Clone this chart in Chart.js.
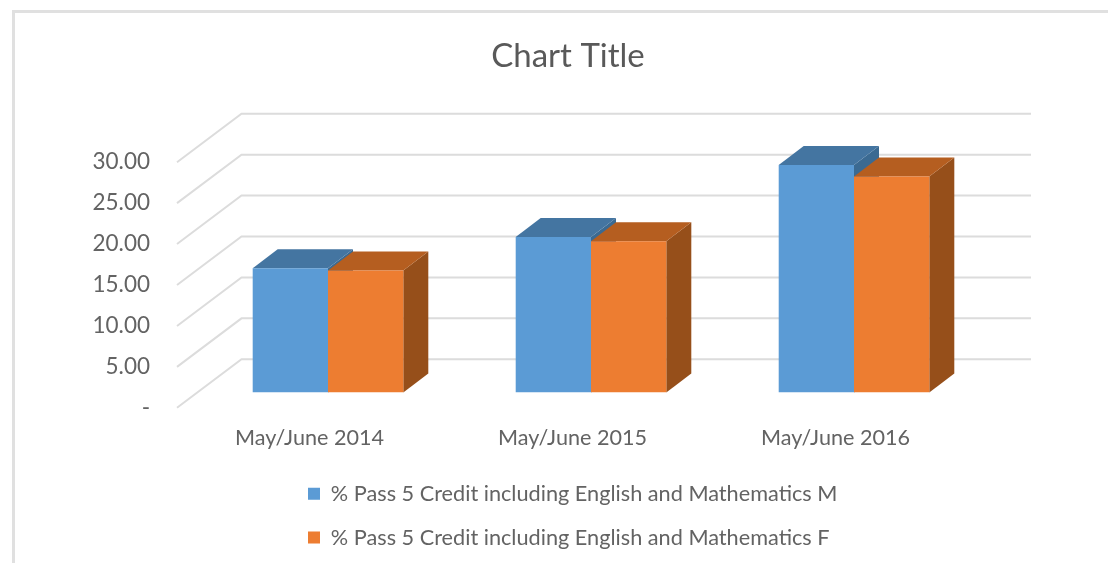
<!DOCTYPE html>
<html>
<head>
<meta charset="utf-8">
<title>Chart Title</title>
<script src="https://cdn.jsdelivr.net/npm/chart.js@4"></script>
<style>
  html, body { margin: 0; padding: 0; background: #fff; }
  #wrap { position: relative; width: 1108px; height: 563px; overflow: hidden; }
  #frame { position: absolute; left: 12px; top: 10px; width: 1200px; height: 600px; border: 3px solid #e0e0e0; box-sizing: border-box; }
  canvas { position: absolute; left: 0; top: 0; }
</style>
</head>
<body>
<div id="wrap">
  <div id="frame"></div>
  <canvas id="chart" width="1108" height="563"></canvas>
</div>
<script>
var categories = ["May/June 2014", "May/June 2015", "May/June 2016"];
var series_m = [15.2, 19.0, 27.8];
var series_f = [14.9, 18.5, 26.4];
var label_m = "% Pass 5 Credit including English and Mathematics M";
var label_f = "% Pass 5 Credit including English and Mathematics F";
var tick_values = [0, 5, 10, 15, 20, 25, 30];

var textColor = "#636363";
var fontName = "Lato";
var barDepthX = 25, barDepthY = 19;

function poly(ctx, pts, color) {
  ctx.fillStyle = color;
  ctx.beginPath();
  ctx.moveTo(pts[0][0], pts[0][1]);
  for (var i = 1; i < pts.length; i++) ctx.lineTo(pts[i][0], pts[i][1]);
  ctx.closePath();
  ctx.fill();
}

// walls of the fake 3d box, hung off the y scale
var wallPlugin = {
  id: "walls",
  beforeDatasetsDraw: function (chart) {
    var ctx = chart.ctx;
    var y = chart.scales.y;
    ctx.save();
    ctx.strokeStyle = "#dcdcdc";
    ctx.lineWidth = 2;
    tick_values.forEach(function (v) {
      var py = y.getPixelForValue(v);
      ctx.beginPath();
      ctx.moveTo(177, py + 15.2);
      ctx.lineTo(241.5, py - 33.3);
      ctx.lineTo(1031, py - 33.3);
      ctx.stroke();
    });
    ctx.restore();

    // sides and tops of each bar, the fronts come from the library
    var shades = [
      { top: "#4475a1", side: "#3b6a92" },
      { top: "#b55e20", side: "#964f1a" }
    ];
    shades.forEach(function (shade, i) {
      chart.getDatasetMeta(i).data.forEach(function (bar) {
        var l = bar.x - bar.width / 2, r = bar.x + bar.width / 2;
        poly(ctx, [[r, bar.y], [r + barDepthX, bar.y - barDepthY], [r + barDepthX, bar.base - barDepthY], [r, bar.base]], shade.side);
        poly(ctx, [[l, bar.y], [l + barDepthX, bar.y - barDepthY], [r + barDepthX, bar.y - barDepthY], [r, bar.y]], shade.top);
      });
    });
  },
  afterLayout: function (chart) {
    // two left aligned rows, chart.js only centres them across the page
    chart.legend.left = 286;
    chart.legend.top = 461;
    chart.titleBlock.left = 28;
    chart.titleBlock.right = 1108;
  }
};

new Chart(document.getElementById("chart"), {
  type: "bar",
  plugins: [wallPlugin],
  data: {
    labels: categories,
    datasets: [
      { label: label_m, data: series_m, backgroundColor: "#5b9bd5" },
      { label: label_f, data: series_f, backgroundColor: "#ed7d31" }
    ]
  },
  options: {
    responsive: false,
    animation: false,
    categoryPercentage: 0.5726,
    barPercentage: 1,
    layout: { padding: { left: 0, right: 122.5, top: 0, bottom: 0 } },
    scales: {
      x: {
        grid: { display: false },
        border: { display: false },
        afterFit: function (scale) { scale.height = 73; },
        ticks: {
          color: textColor,
          font: { family: fontName, size: 21.6 },
          labelOffset: -18.5,
          padding: 24,
          maxRotation: 0
        }
      },
      y: {
        min: 0,
        max: 30,
        afterFit: function (scale) { scale.width = 196.5; },
        grid: { display: false },
        border: { display: false },
        afterBuildTicks: function (scale) {
          scale.ticks = tick_values.map(function (v) { return { value: v }; });
        },
        ticks: {
          color: textColor,
          font: { family: fontName, size: 22.5 },
          labelOffset: 14.7,
          padding: 38.5,
          callback: function (v) { return v === 0 ? "-" : v.toFixed(2); }
        }
      }
    },
    plugins: {
      tooltip: { enabled: false },
      title: {
        display: true,
        text: "Chart Title",
        color: "#595959",
        font: { family: fontName, size: 33, weight: "normal" },
        padding: { top: 37, bottom: 70.4 }
      },
      legend: {
        position: "bottom",
        align: "start",
        labels: {
          color: textColor,
          font: { family: fontName, size: 21.7 },
          boxWidth: 12,
          boxHeight: 12,
          padding: 22
        }
      }
    }
  }
});
</script>
</body>
</html>
